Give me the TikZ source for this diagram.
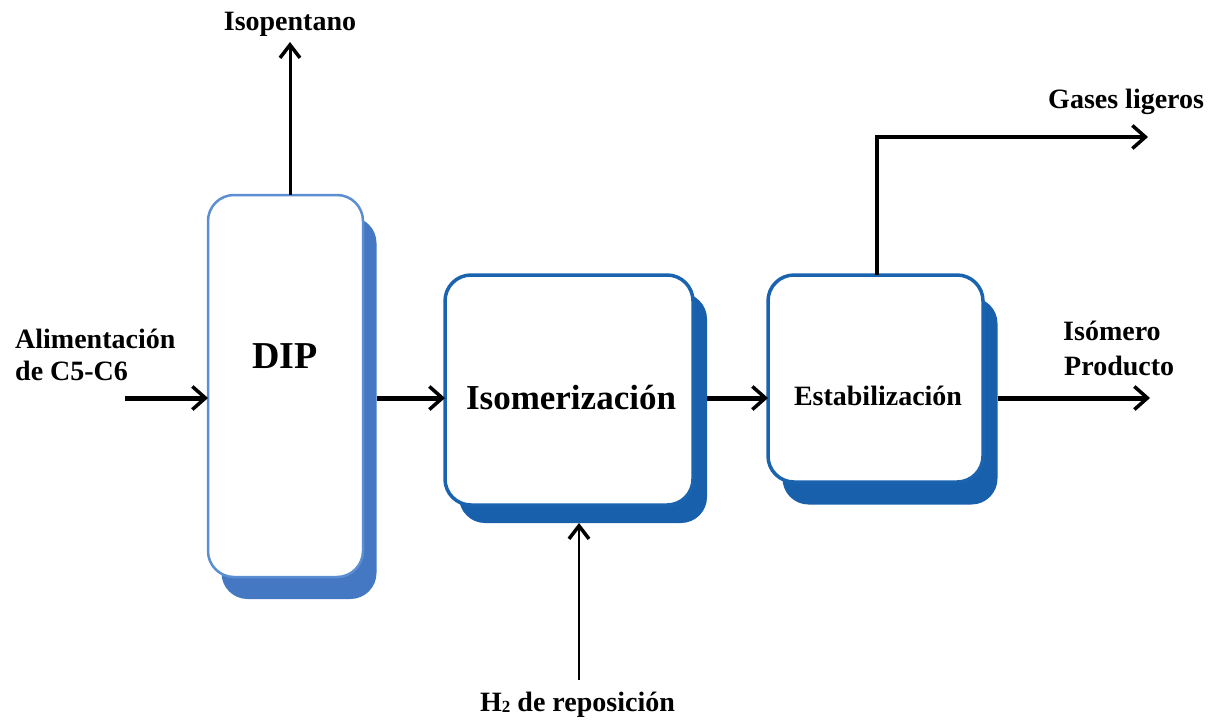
\documentclass[tikz,border=0pt]{standalone}
\usepackage{fontspec}
\setmainfont{Liberation Serif}
\usetikzlibrary{arrows.meta}
\definecolor{dipborder}{HTML}{5B8ED2}
\definecolor{dipshadow}{HTML}{4478C2}
\definecolor{darkborder}{HTML}{1A63AF}
\definecolor{darkshadow}{HTML}{1860AC}
\tikzset{
  front/.style={rectangle, rounded corners=26pt, fill=white, inner sep=0pt, outer sep=0pt},
  shadowbox/.style={rectangle, rounded corners=26pt, inner sep=0pt, outer sep=0pt},
  lbl/.style={font=\fontsize{28}{32}\selectfont\bfseries, inner sep=0pt, anchor=base west},
  flow/.style={line width=5pt, -{Straight Barb[length=13pt,width=23pt,line width=3.5pt]}},
  thinflow/.style={line width=3pt, -{Straight Barb[length=13pt,width=20pt,line width=3.5pt]}},
}
\begin{document}
\begin{tikzpicture}[x=1pt,y=-1pt]
\useasboundingbox (0,0) rectangle (1230,723);
% shadows
\node[shadowbox, fill=dipshadow, minimum width=155pt, minimum height=382pt] (dipS) at (299,408) {};
\node[shadowbox, fill=darkshadow, minimum width=248pt, minimum height=230pt] (isoS) at (583,408) {};
\node[shadowbox, fill=darkshadow, minimum width=215pt, minimum height=207pt] (estS) at (890,401) {};
% front boxes
\node[front, draw=dipborder, line width=2.5pt, minimum width=155pt, minimum height=382pt] (dip) at (285.5,386) {};
\node[front, draw=darkborder, line width=3.5pt, minimum width=248pt, minimum height=230pt] (iso) at (569,390) {};
\node[front, draw=darkborder, line width=3.5pt, minimum width=215pt, minimum height=207pt] (est) at (875.5,378.5) {};
% box texts
\node[font=\fontsize{38}{40}\selectfont\bfseries, inner sep=0pt, anchor=base] (diptxt) at (285,368) {DIP};
\node[font=\fontsize{35}{38}\selectfont\bfseries, inner sep=0pt, anchor=base] (isotxt) at (571,409) {Isomerización};
\node[font=\fontsize{28}{32}\selectfont\bfseries, inner sep=0pt, anchor=base] (esttxt) at (878,405) {Estabilización};
% labels
\node[lbl, anchor=base] (isop) at (290,30) {Isopentano};
\node[lbl] (alim1) at (15,348) {Alimentación};
\node[lbl] (alim2) at (15,380) {de C5-C6};
\node[lbl] (prod1) at (1063,340) {Isómero};
\node[lbl] (prod2) at (1064,375) {Producto};
\node[lbl] (gases) at (1048,108) {Gases ligeros};
\node[lbl] (h2) at (480,711) {H\raisebox{-1pt}{\fontsize{17}{17}\selectfont 2} de reposición};
% coordinates
\coordinate (row) at (0,398);
\coordinate (feed) at (125,398);
\coordinate (outend) at (1150,398);
\coordinate (isotip) at (290,42);
\coordinate (gascorner) at (877,137);
\coordinate (gasend) at (1148,137);
\coordinate (h2start) at (579,680);
% connectors
\draw[flow] (feed) -- (feed -| dip.west);
\draw[flow] (row -| dipS.east) -- (row -| iso.west);
\draw[flow] (row -| isoS.east) -- (row -| est.west);
\draw[flow] (row -| estS.east) -- (outend);
\draw[thinflow] (isotip |- dip.north) -- (isotip);
\draw[line width=4pt, -{Straight Barb[length=13pt,width=23pt,line width=3.5pt]}] (gascorner |- est.north) -- (gascorner) -- (gasend);
\draw[thinflow, line width=2.5pt] (h2start) -- (h2start |- isoS.south);
\end{tikzpicture}
\end{document}
